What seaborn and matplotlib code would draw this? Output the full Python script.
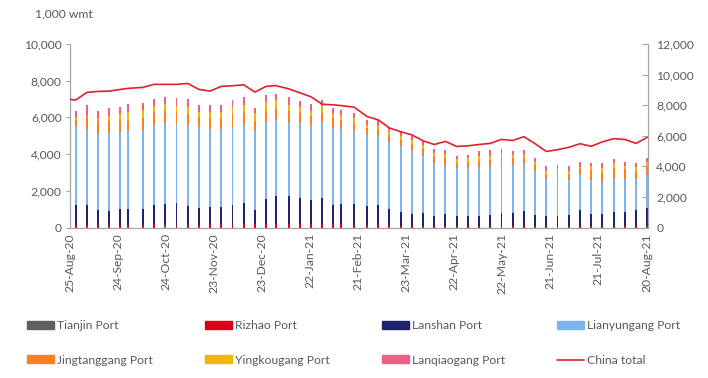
import pandas as pd
import numpy as np
import matplotlib
matplotlib.use("Agg")
import matplotlib.pyplot as plt
import matplotlib.dates as mdates
from matplotlib.ticker import FuncFormatter, MultipleLocator
from matplotlib.patches import Patch
from matplotlib.lines import Line2D
import seaborn as sns

# weekly port inventory, 1,000 wmt
dates = ["2020-08-28", "2020-09-04", "2020-09-11", "2020-09-18", "2020-09-25", "2020-09-30",
         "2020-10-09", "2020-10-16", "2020-10-23", "2020-10-30", "2020-11-06", "2020-11-13",
         "2020-11-20", "2020-11-27", "2020-12-04", "2020-12-11", "2020-12-18", "2020-12-25",
         "2020-12-31", "2021-01-08", "2021-01-15", "2021-01-22", "2021-01-29", "2021-02-05",
         "2021-02-10", "2021-02-18", "2021-02-26", "2021-03-05", "2021-03-12", "2021-03-19",
         "2021-03-26", "2021-04-02", "2021-04-09", "2021-04-16", "2021-04-23", "2021-04-30",
         "2021-05-07", "2021-05-14", "2021-05-21", "2021-05-28", "2021-06-04", "2021-06-11",
         "2021-06-18", "2021-06-25", "2021-07-02", "2021-07-09", "2021-07-16", "2021-07-23",
         "2021-07-30", "2021-08-06", "2021-08-13", "2021-08-20"]

tianjin = [0, 0, 0, 0, 0, 0, 0, 0, 130, 0, 0, 0, 0, 0, 0, 0, 0, 0, 0, 0, 0, 0, 0, 0, 0, 0,
           0, 0, 0, 0, 0, 0, 0, 0, 0, 0, 0, 0, 0, 0, 0, 0, 0, 0, 0, 0, 0, 0, 0, 0, 0, 0]
rizhao = [130, 130, 130, 130, 130, 130, 130, 190, 0, 130, 130, 130, 190, 190, 130, 190, 190, 190,
          190, 190, 190, 190, 190, 190, 190, 137, 130, 130, 130, 100, 100, 100, 100, 100, 100, 100,
          100, 100, 100, 60, 100, 100, 100, 100, 60, 100, 60, 60, 60, 60, 60, 60]
lanshan = [1100, 1110, 820, 770, 880, 880, 880, 1040, 1150, 1210, 1045, 935, 930, 930, 1100, 1150,
           765, 1365, 1530, 1530, 1420, 1310, 1410, 1040, 1090, 1150, 1060, 1120, 880, 750, 655, 710,
           530, 655, 530, 530, 530, 585, 690, 750, 800, 585, 530, 530, 620, 855, 680, 680, 800, 800,
           900, 990]
lianyungang = [4220, 4140, 4170, 4260, 4220, 4330, 4330, 4330, 4390, 4310, 4425, 4385, 4260, 4260,
               4260, 4260, 4315, 4200, 4150, 4040, 4095, 4100, 4150, 4170, 4100, 4045, 3860, 3750,
               3625, 3605, 3480, 3060, 2910, 2660, 2600, 2640, 2660, 2640, 2680, 2600, 2640, 2400,
               2020, 1965, 1915, 1910, 1860, 1765, 1785, 1785, 1690, 1820]
jingtanggang = [420, 635, 690, 655, 600, 475, 620, 750, 690, 660, 600, 585, 600, 545, 710, 655,
                545, 600, 600, 600, 550, 490, 500, 550, 500, 330, 365, 290, 420, 330, 330, 420,
                330, 365, 310, 275, 310, 330, 330, 365, 240, 330, 220, 420, 330, 365, 545, 490,
                580, 545, 435, 455]
yingkougang = [90, 75, 125, 235, 365, 490, 460, 330, 385, 330, 380, 275, 330, 385, 380, 435,
               440, 495, 490, 330, 325, 270, 380, 250, 270, 300, 180, 220, 180, 180, 180, 180,
               180, 235, 180, 220, 270, 255, 230, 185, 180, 180, 200, 180, 180, 90, 180, 235,
               275, 180, 235, 235]
lanqiaogang = [400, 560, 420, 475, 380, 435, 380, 380, 385, 435, 440, 380, 380, 380, 380, 440,
               270, 380, 330, 440, 330, 385, 300, 300, 270, 270, 275, 325, 180, 220, 220, 220,
               255, 220, 180, 180, 275, 290, 260, 220, 275, 185, 255, 220, 220, 275, 180, 275,
               240, 220, 220, 220]

china_dates = ["2020-08-25"] + dates
china_total = [8380, 8330, 8835, 8900, 8920, 9030, 9100, 9160, 9360, 9360, 9360, 9420, 9030,
               8920, 9230, 9270, 9330, 8855, 9230, 9280, 9070, 8810, 8550, 8060, 8020, 7970,
               7870, 7260, 7040, 6510, 6260, 6060, 5670, 5430, 5630, 5300, 5340, 5430, 5500,
               5760, 5690, 5940, 5480, 4970, 5090, 5240, 5480, 5310, 5600, 5810, 5760, 5500,
               5890]

ports = ["Tianjin Port", "Rizhao Port", "Lanshan Port", "Lianyungang Port",
         "Jingtanggang Port", "Yingkougang Port", "Lanqiaogang Port"]
series = [tianjin, rizhao, lanshan, lianyungang, jingtanggang, yingkougang, lanqiaogang]
colors = ["#5f5f5f", "#d9001b", "#20226b", "#7db4ee", "#ff7f1e", "#f0b70a", "#ee5f86"]
line_color = "#e0202c"
txt = "#595959"
spine = "#a6a6a6"

sns.set_style("white")
plt.rcParams["font.family"] = ["Lato", "DejaVu Sans"]
plt.rcParams["font.size"] = 8.7

fig = plt.figure(figsize=(7.08, 3.78), dpi=100)
ax = fig.add_axes([70 / 708, 1 - 227.5 / 378, 578 / 708, 183.5 / 378])

x = pd.to_datetime(pd.Series(dates)) + pd.Timedelta(hours=12)
bottom = np.zeros(len(dates))
for name, vals, c in zip(ports, series, colors):
    ax.bar(x, vals, bottom=bottom, width=1.2, color=c, linewidth=0, label=name,
           antialiased=False)
    bottom += np.array(vals)

ax2 = ax.twinx()
cx = pd.to_datetime(pd.Series(china_dates)) + pd.Timedelta(hours=12)
cx.iloc[0] = pd.Timestamp("2020-08-25")
sns.lineplot(x=cx, y=china_total, ax=ax2, color=line_color, linewidth=1.2)

ax.set_xlim(pd.Timestamp("2020-08-25"), pd.Timestamp("2021-08-21"))
ax.set_ylim(0, 10000)
ax2.set_ylim(0, 12000)
ax.yaxis.set_major_locator(MultipleLocator(2000))
ax2.yaxis.set_major_locator(MultipleLocator(2000))
fmt = FuncFormatter(lambda v, p: f"{int(v):,}")
ax.yaxis.set_major_formatter(fmt)
ax2.yaxis.set_major_formatter(fmt)

ax.set_xticks(pd.date_range("2020-08-25", "2021-08-20", freq="30D"))
ax.xaxis.set_major_formatter(mdates.DateFormatter("%d-%b-%y"))
ax.tick_params(axis="x", rotation=90, direction="in", length=3, color=spine,
               labelcolor=txt, labelsize=8.7, pad=4)
ax.tick_params(axis="y", direction="out", length=3, color=spine, labelcolor=txt,
               labelsize=8.7, pad=3)
ax2.tick_params(axis="y", direction="in", length=4, color=spine, labelcolor=txt,
                labelsize=8.7, pad=6)
for a in (ax, ax2):
    a.set_xlabel("")
    a.set_ylabel("")
    a.grid(False)
    a.spines["top"].set_visible(False)
    for s in ("left", "right", "bottom"):
        a.spines[s].set_color(spine)
        a.spines[s].set_linewidth(0.9)
ax.spines["right"].set_visible(False)
ax2.spines["left"].set_visible(False)
ax2.spines["bottom"].set_visible(False)

fig.text(35 / 708, 1 - 14 / 378, "1,000 wmt", color=txt, fontsize=8.7, va="center")

# legend filled row by row like the original
handles = [Patch(color=c) for c in colors] + [Line2D([], [], color=line_color, lw=1.2)]
labels = ports + ["China total"]
order = [0, 4, 1, 5, 2, 6, 3, 7]
leg = fig.legend([handles[i] for i in order], [labels[i] for i in order], ncol=4,
                 loc="upper left", bbox_to_anchor=(27 / 708, 1 - 320 / 378),
                 frameon=False, borderaxespad=0, borderpad=0, handlelength=2.2,
                 handleheight=0.6, handletextpad=0.3, columnspacing=4.3,
                 labelspacing=1.95, fontsize=8.7)
for t in leg.get_texts():
    t.set_color(txt)

fig.savefig("out.png", dpi=100)
